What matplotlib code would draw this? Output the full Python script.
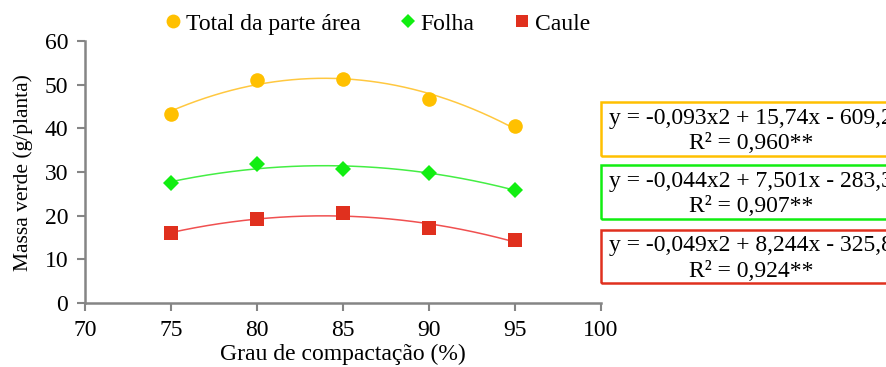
import numpy as np
import matplotlib
matplotlib.use("Agg")
from matplotlib import pyplot as plt
from matplotlib.lines import Line2D
from matplotlib.patches import Rectangle

# Grau de compactação x massa verde
grau = [75, 80, 85, 90, 95]
total = [43.4, 51.2, 51.4, 46.8, 40.5]
folha = [27.4, 31.8, 30.7, 29.7, 26.0]
caule = [16.0, 19.3, 20.7, 17.1, 14.4]

nomes = ["Total da parte área", "Folha", "Caule"]
equacoes = ["y = -0,093x2 + 15,74x - 609,2",
            "y = -0,044x2 + 7,501x - 283,3",
            "y = -0,049x2 + 8,244x - 325,8"]
r2 = ["R² = 0,960**", "R² = 0,907**", "R² = 0,924**"]

cores = ["#FFC000", "#11EE11", "#E0301E"]
cores_linha = ["#FFC840", "#44EE44", "#F05050"]
marcadores = ["o", "D", "s"]
tamanhos = [10.5, 8, 9.5]

plt.rcParams["font.family"] = ["Liberation Serif", "DejaVu Serif"]
plt.rcParams["font.size"] = 17

fig = plt.figure(figsize=(8.86, 3.67), dpi=100)
ax = fig.add_axes([0.0959, 0.174, 0.5824, 0.714])

xs = np.linspace(75, 95, 200)
for serie, cor, cl, m, ms in zip([total, folha, caule], cores, cores_linha, marcadores, tamanhos):
    coef = np.polyfit(grau, serie, 2)
    ax.plot(xs, np.polyval(coef, xs), color=cl, linewidth=1.1, zorder=2)
    ax.plot(grau, serie, linestyle="none", marker=m, markersize=ms,
            color=cor, markeredgewidth=0, zorder=3)

ax.set_xlim(70, 100)
ax.set_ylim(0, 60)
ax.set_xticks(range(70, 101, 5))
ax.set_yticks(range(0, 61, 10))
for s in ["top", "right"]:
    ax.spines[s].set_visible(False)
for s in ["left", "bottom"]:
    ax.spines[s].set_color("#858585")
    ax.spines[s].set_linewidth(1.8)
ax.tick_params(direction="out", color="#858585", length=6, width=1.5, pad=6)
ax.set_xlabel("Grau de compactação (%)", labelpad=2)
ax.set_ylabel("Massa verde (g/planta)", fontsize=15.5)
ax.yaxis.set_label_coords(-0.10, 0.5)

handles = [Line2D([], [], linestyle="none", marker=m, color=c, markeredgewidth=0,
                  markersize=ms * 0.95)
           for m, c, ms in zip(marcadores, cores, tamanhos)]
fig.legend(handles, nomes, ncol=3, loc="center", bbox_to_anchor=(0.425, 0.935),
           frameon=False, handletextpad=0.15, columnspacing=1.6, handlelength=0.8,
           borderpad=0, borderaxespad=0)

# caixas com as equações
caixas = [(102, 156), (165, 219), (230, 283)]
W, H = 886, 367
for (y0, y1), cor, eq, r in zip(caixas, cores, equacoes, r2):
    fig.patches.append(Rectangle((601 / W, 1 - y1 / H), 320 / W, (y1 - y0) / H,
                                 transform=fig.transFigure, fill=False,
                                 edgecolor=cor, linewidth=1.8))
    fig.text(751 / W, 1 - ((y0 + y1) / 2 + 2) / H, eq + "\n" + r, ha="center", va="center",
             multialignment="center", linespacing=1.3)

fig.savefig("out.png", dpi=100)
